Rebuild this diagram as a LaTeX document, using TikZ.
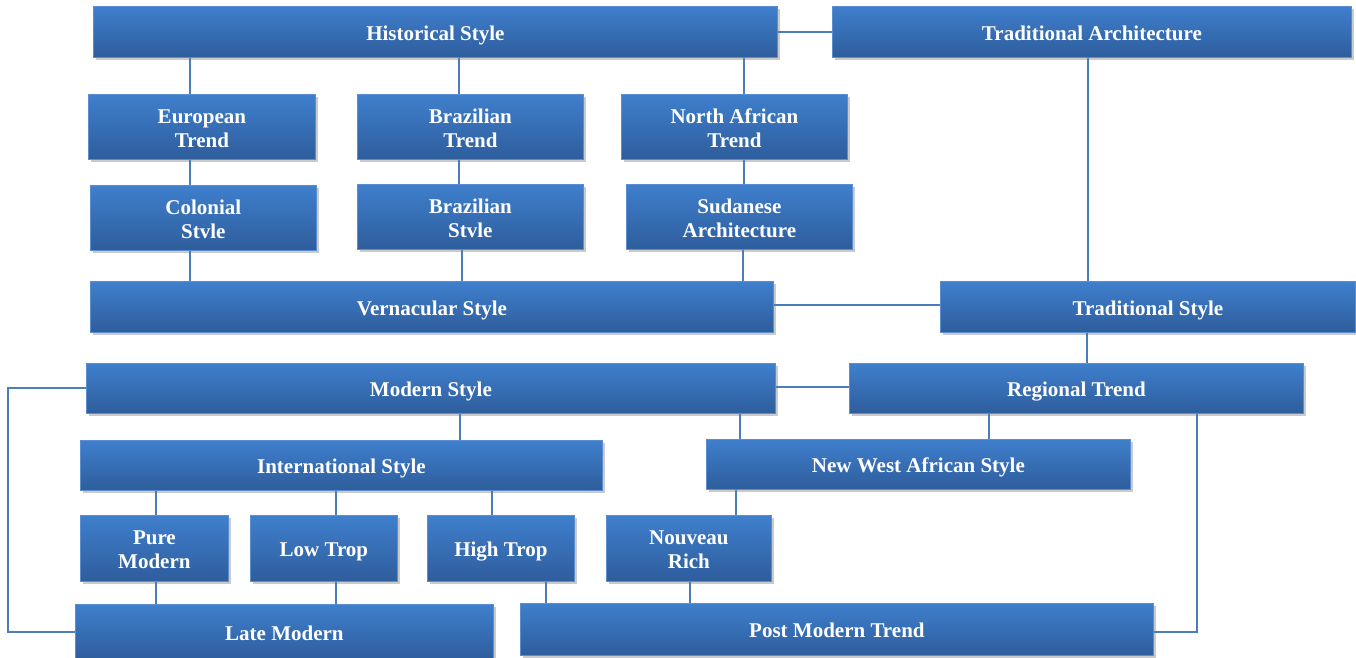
\documentclass[tikz,border=0pt]{standalone}
\usepackage{fontspec}
\setmainfont{Liberation Serif}
\usetikzlibrary{shadows,calc}
\definecolor{boxtop}{HTML}{3F7FCD}
\definecolor{boxbot}{HTML}{2E5D9C}
\definecolor{boxedge}{HTML}{5B8ED0}
\definecolor{linkc}{HTML}{4A7EBB}
\tikzset{
  box/.style={rectangle, anchor=north west, top color=boxtop, bottom color=boxbot,
    draw=boxedge, line width=0.8pt, text=white, align=center, inner sep=0pt,
    font=\fontsize{21}{24}\selectfont\bfseries,
    drop shadow={shadow xshift=2.5pt, shadow yshift=-3pt, opacity=0.35, fill=black!60}},
  link/.style={draw=linkc, line width=1.6pt}
}
\newcommand{\bx}[6]{\node[box, minimum width=#4-#2, minimum height=#5-#3] (#1) at (#2,#3) {\raisebox{-3.5pt}[\height][\depth]{\begin{tabular}{@{}c@{}}#6\end{tabular}}};}
\begin{document}
\begin{tikzpicture}[x=1pt,y=-1pt]
\useasboundingbox (0,0) rectangle (1356,657);
\bx{hist}{93}{6}{777}{57}{Historical Style}
\bx{tarch}{832}{6}{1351}{57}{Traditional Architecture}
\bx{eur}{88}{94}{315}{159}{European\\Trend}
\bx{brt}{357}{94}{583}{159}{Brazilian\\Trend}
\bx{naf}{621}{94}{847}{159}{North African\\Trend}
\bx{col}{90}{185}{316}{250}{Colonial\\Stvle}
\bx{brs}{357}{184}{583}{249}{Brazilian\\Stvle}
\bx{sud}{626}{184}{852}{249}{Sudanese\\Architecture}
\bx{ver}{90}{281}{773}{332}{Vernacular Style}
\bx{trs}{940}{281}{1355}{332}{Traditional Style}
\bx{mod}{86}{363}{775}{413}{Modern Style}
\bx{reg}{849}{363}{1303}{413}{Regional Trend}
\bx{intl}{80}{440}{602}{490}{International Style}
\bx{nwa}{706}{439}{1130}{489}{New West African Style}
\bx{pure}{80}{515}{228}{581}{Pure\\Modern}
\bx{low}{250}{515}{397}{581}{Low Trop}
\bx{high}{427}{515}{574}{581}{High Trop}
\bx{nouv}{606}{515}{771}{581}{Nouveau\\Rich}
\bx{late}{75}{604}{493}{660}{Late Modern}
\bx{post}{520}{603}{1153}{655}{Post Modern Trend}
\begin{scope}[link]
\draw (hist.east |- 0,32) -- (tarch.west |- 0,32);
\draw (190,0 |- hist.south) -- (190,0 |- eur.north);
\draw (459,0 |- hist.south) -- (459,0 |- brt.north);
\draw (744,0 |- hist.south) -- (744,0 |- naf.north);
\draw (190,0 |- eur.south) -- (190,0 |- col.north);
\draw (459,0 |- brt.south) -- (459,0 |- brs.north);
\draw (744,0 |- naf.south) -- (744,0 |- sud.north);
\draw (190,0 |- col.south) -- (190,0 |- ver.north);
\draw (462,0 |- brs.south) -- (462,0 |- ver.north);
\draw (743,0 |- sud.south) -- (743,0 |- ver.north);
\draw (ver.east |- 0,305) -- (trs.west |- 0,305);
\draw (1088,0 |- tarch.south) -- (1088,0 |- trs.north);
\draw (1087,0 |- trs.south) -- (1087,0 |- reg.north);
\draw (mod.east |- 0,387) -- (reg.west |- 0,387);
\draw (460,0 |- mod.south) -- (460,0 |- intl.north);
\draw (740,0 |- mod.south) -- (740,0 |- nwa.north);
\draw (989,0 |- reg.south) -- (989,0 |- nwa.north);
\draw (156,0 |- intl.south) -- (156,0 |- pure.north);
\draw (336,0 |- intl.south) -- (336,0 |- low.north);
\draw (492,0 |- intl.south) -- (492,0 |- high.north);
\draw (156,0 |- pure.south) -- (156,0 |- late.north);
\draw (336,0 |- low.south) -- (336,0 |- late.north);
\draw (546,0 |- high.south) -- (546,0 |- post.north);
\draw (736,0 |- nwa.south) -- (736,0 |- nouv.north);
\draw (690,0 |- nouv.south) -- (690,0 |- post.north);
\draw (mod.west |- 0,388) -- (8,388) -- (8,632) -- (late.west |- 0,632);
\draw (1197,0 |- reg.south) -- (1197,632) -- (post.east |- 0,632);
\end{scope}
\end{tikzpicture}
\end{document}
